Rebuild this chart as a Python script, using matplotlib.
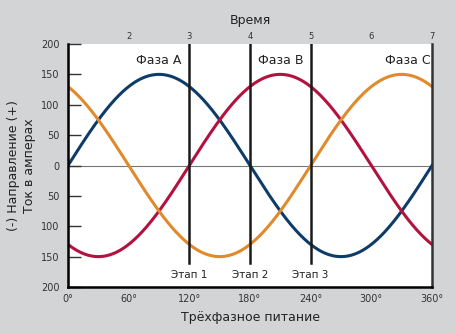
import numpy as np
import matplotlib.pyplot as plt

# phase currents, amplitude 150 A, shifted by 120 degrees
amplitude = 150
phase_names = ["Фаза A", "Фаза B", "Фаза C"]
phase_shift = [0, 120, 240]
phase_colors = ["#0e3c69", "#b3123f", "#e08a2c"]
label_pos = [(90, 162), (210, 162), (336, 162)]

degree_ticks = [0, 60, 120, 180, 240, 300, 360]
time_ticks = [60, 120, 180, 240, 300, 360]
time_labels = ["2", "3", "4", "5", "6", "7"]
y_ticks = [-200, -150, -100, -50, 0, 50, 100, 150, 200]
stages = [120, 180, 240]
stage_names = ["Этап 1", "Этап 2", "Этап 3"]

theta = np.linspace(0, 360, 721)

fig = plt.figure(figsize=(4.55, 3.33), dpi=100, facecolor="#d3d4d6")
ax = fig.add_axes([68 / 455, 46 / 333, 364 / 455, 243 / 333])
ax.set_facecolor("white")

ax.axhline(0, color="#777777", lw=0.8, zorder=1)
for s, name in zip(stages, stage_names):
    ax.plot([s, s], [-160, 200], color="#1a1a1a", lw=1.8, zorder=3)
    ax.text(s, -181, name, ha="center", va="center", fontsize=7.5, color="#222222")

for name, shift, color, (lx, ly) in zip(phase_names, phase_shift, phase_colors, label_pos):
    ax.plot(theta, amplitude * np.sin(np.radians(theta - shift)), color=color, lw=2.2, zorder=2)
    ax.text(lx, ly, name, ha="center", va="bottom", fontsize=9, color="#222222")

ax.set_xlim(0, 360)
ax.set_ylim(-200, 200)
ax.set_xticks(degree_ticks)
ax.set_xticklabels([f"{d}°" for d in degree_ticks], fontsize=7, color="#333333")
ax.set_yticks(y_ticks)
ax.set_yticklabels([str(abs(v)) for v in y_ticks], fontsize=7, color="#333333")
ax.tick_params(axis="y", direction="in", length=9, width=1, color="#333333", pad=6)
ax.tick_params(axis="x", length=0, pad=5)

ax.spines["top"].set_visible(False)
ax.spines["left"].set_linewidth(1.8)
ax.spines["bottom"].set_linewidth(1.8)
ax.spines["right"].set_linewidth(1.8)
ax.spines["right"].set_color("#333333")

top = ax.secondary_xaxis("top")
top.set_xticks(time_ticks)
top.set_xticklabels(time_labels, fontsize=6, color="#333333")
top.tick_params(length=0, pad=2)
top.spines["top"].set_visible(False)
top.set_xlabel("Время", fontsize=9, color="#222222", labelpad=6)

ax.set_xlabel("Трёхфазное питание", fontsize=9, color="#222222", labelpad=5)
ax.set_ylabel("(-) Направление (+)\nТок в амперах", fontsize=9, color="#222222", labelpad=4,
              linespacing=1.25)

fig.savefig("out.png", dpi=100, facecolor=fig.get_facecolor())
